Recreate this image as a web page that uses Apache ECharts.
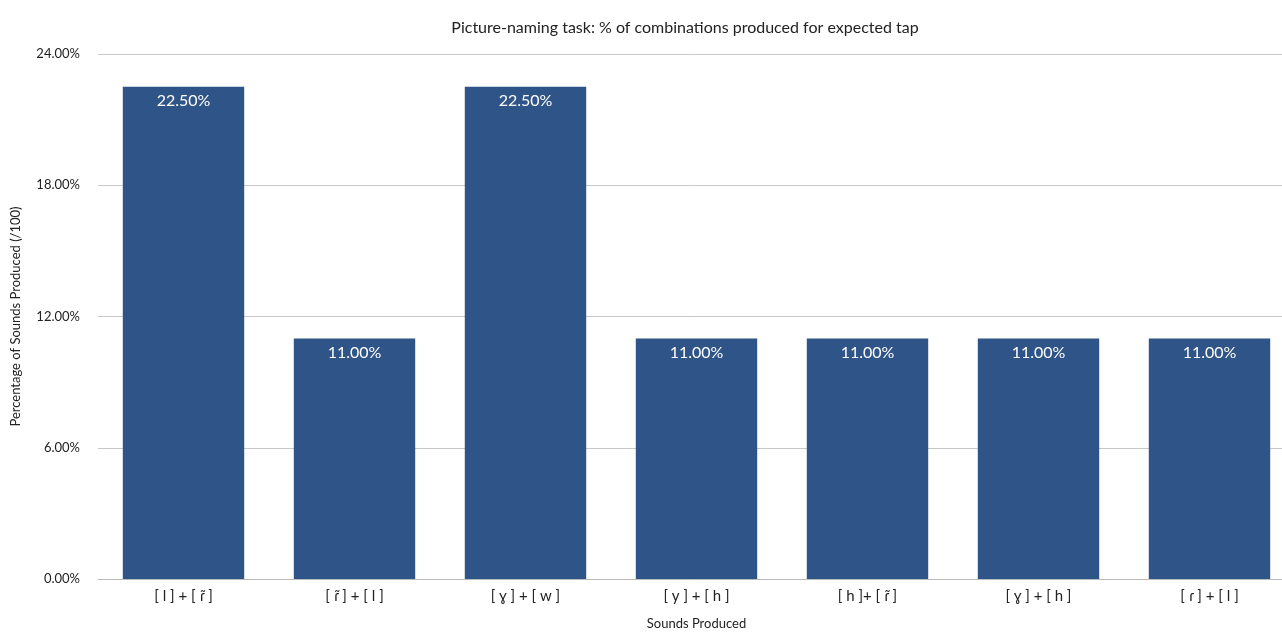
<!DOCTYPE html>
<html>
<head>
<meta charset="utf-8">
<script src="https://cdn.jsdelivr.net/npm/echarts@6/dist/echarts.min.js"></script>
<style>html,body{margin:0;padding:0;background:#fff}#c{width:1282px;height:633px}</style>
</head>
<body>
<div id="c"></div>
<script>
const categories = ['[ l ] + [ ɾ̃ ]', '[ ɾ̃ ] + [ l ]', '[ ɣ ] + [ w ]', '[ y ] + [ h ]', '[ h ]+ [ ɾ̃ ]', '[ ɣ ] + [ h ]', '[ ɾ ] + [ l ]'];
const values = [22.5, 11, 22.5, 11, 11, 11, 11];
const yTicks = [0, 6, 12, 18, 24];
const titleText = 'Picture-naming task: % of combinations produced for expected tap';
const xName = 'Sounds Produced';
const yName = 'Percentage of Sounds Produced (/100)';

const FONT = 'Lato, "Open Sans", sans-serif';
const chart = echarts.init(document.getElementById('c'), null, {renderer: 'canvas'});
chart.setOption({
  animation: false,
  title: {
    text: titleText, left: 680, top: 15, textAlign: 'center',
    textStyle: {fontFamily: FONT, fontSize: 16, fontWeight: 'normal', color: '#222'}
  },
  grid: {left: 98, width: 1197, top: 54, height: 525, containLabel: false, outerBoundsMode: 'none'},
  xAxis: {
    type: 'category', data: categories,
    name: xName, nameLocation: 'middle', nameGap: 38,
    nameTextStyle: {fontFamily: FONT, fontSize: 13, color: '#222'},
    axisTick: {show: false},
    axisLine: {lineStyle: {color: '#bbb'}},
    axisLabel: {fontFamily: FONT, fontSize: 15, color: '#222', margin: 10, interval: 0}
  },
  yAxis: {
    type: 'value', min: yTicks[0], max: yTicks[yTicks.length - 1], interval: 6,
    name: yName, nameLocation: 'middle', nameGap: 76, nameRotate: 90,
    nameTextStyle: {fontFamily: FONT, fontSize: 13, color: '#222'},
    axisLine: {show: false}, axisTick: {show: false},
    axisLabel: {fontFamily: FONT, fontSize: 13, color: '#222', margin: 18,
      formatter: v => v.toFixed(2) + '%'},
    splitLine: {lineStyle: {color: '#c8c8c8', width: 1}}
  },
  series: [{
    type: 'bar', data: values, barCategoryGap: '29%',
    itemStyle: {color: '#2F5487'},
    label: {show: true, position: 'insideTop', distance: 6, color: '#fff',
      fontFamily: FONT, fontSize: 16, formatter: p => p.value.toFixed(2) + '%'}
  }]
});
</script>
</body>
</html>
